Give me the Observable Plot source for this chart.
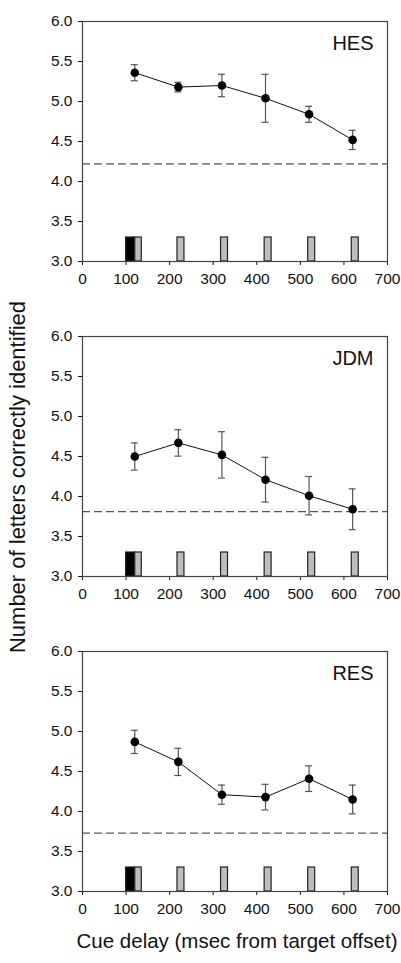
<!DOCTYPE html>
<html><head><meta charset="utf-8">
<script src="https://cdn.jsdelivr.net/npm/d3@7"></script>
<script src="https://cdn.jsdelivr.net/npm/@observablehq/plot@0.6"></script>
<style>
body{margin:0;background:#fff;font-family:"Liberation Sans",Arial,sans-serif;}
#wrap{position:relative;width:401px;height:963px;overflow:hidden;background:#fff;}
.panel{position:absolute;left:0;z-index:1;}
#ylab{position:absolute;z-index:5;left:18px;top:477px;transform:translate(-50%,-50%) rotate(-90deg);white-space:nowrap;font-size:22px;line-height:22px;color:#111;}
#xlab{position:absolute;z-index:5;left:237px;top:930px;transform:translateX(-50%);white-space:nowrap;font-size:20.5px;line-height:21px;color:#111;}
</style></head><body>
<div id="wrap"><div id="ylab">Number of letters correctly identified</div><div id="xlab">Cue delay (msec from target offset)</div></div>
<script>
const delays = [120, 220, 320, 420, 520, 620];
const subjects = ["HES", "JDM", "RES"];
const hesMean = [5.36, 5.18, 5.20, 5.04, 4.84, 4.52];
const hesErr  = [0.10, 0.06, 0.14, 0.30, 0.10, 0.12];
const jdmMean = [4.50, 4.67, 4.52, 4.21, 4.01, 3.84];
const jdmErr  = [0.17, 0.165, 0.29, 0.28, 0.24, 0.255];
const resMean = [4.87, 4.62, 4.21, 4.18, 4.41, 4.15];
const resErr  = [0.145, 0.17, 0.12, 0.16, 0.16, 0.18];
const chance = [4.22, 3.81, 3.73];
const targetBar = {x1: 100, x2: 121};
const cueStart = [121, 218, 318, 418, 518, 618];
const cueEnd   = [136, 234, 334, 434, 534, 634];
const barTop = 3.3;
const xTicks = [0, 100, 200, 300, 400, 500, 600, 700];
const yTicks = [3.0, 3.5, 4.0, 4.5, 5.0, 5.5, 6.0];

const means = [hesMean, jdmMean, resMean];
const errs = [hesErr, jdmErr, resErr];
const wrap = document.getElementById("wrap");

subjects.forEach((s, i) => {
  const data = delays.map((x, j) => ({x, y: means[i][j], lo: means[i][j] - errs[i][j], hi: means[i][j] + errs[i][j]}));
  const cues = cueStart.map((a, j) => ({x1: a, x2: cueEnd[j]}));
  const chart = Plot.plot({
    width: 401, height: 300,
    marginLeft: 82, marginRight: 14, marginTop: 21, marginBottom: 39,
    style: {fontFamily: '"Liberation Sans", Arial, sans-serif', fontSize: "15.5px", color: "#111", background: "transparent"},
    x: {domain: [0, 700], ticks: xTicks, tickSize: 4, tickPadding: 7, label: null, tickFormat: d3.format("d")},
    y: {domain: [3, 6], ticks: yTicks, tickSize: 4, tickPadding: 6, label: null, tickFormat: d3.format(".1f")},
    marks: [
      Plot.ruleY([chance[i]], {stroke: "#555", strokeWidth: 1.2, strokeDasharray: "8,4"}),
      Plot.rectY([targetBar], {x1: "x1", x2: "x2", y1: 3, y2: barTop, fill: "black", stroke: "#222", strokeWidth: 1.2}),
      Plot.rectY(cues, {x1: "x1", x2: "x2", y1: 3, y2: barTop, fill: "#bdbdbd", stroke: "#222", strokeWidth: 1.2}),
      Plot.ruleX(data, {x: "x", y1: "lo", y2: "hi", stroke: "#555", strokeWidth: 1.2}),
      Plot.ruleY(data, {y: "hi", x1: d => d.x - 8, x2: d => d.x + 8, stroke: "#555", strokeWidth: 1.2}),
      Plot.ruleY(data, {y: "lo", x1: d => d.x - 8, x2: d => d.x + 8, stroke: "#555", strokeWidth: 1.2}),
      Plot.line(data, {x: "x", y: "y", stroke: "#111", strokeWidth: 1}),
      Plot.dot(data, {x: "x", y: "y", r: 4.3, fill: "black", stroke: "none"}),
      Plot.text([s], {text: d => d, frameAnchor: "top-right", textAnchor: "end", lineAnchor: "top", dx: -14, dy: 14, fontSize: 20, fill: "#111"}),
      Plot.frame({stroke: "#444", strokeWidth: 1.2})
    ]
  });
  chart.classList.add("panel");
  chart.style.top = (i * 315) + "px";
  wrap.appendChild(chart);
});
</script>
</body></html>
